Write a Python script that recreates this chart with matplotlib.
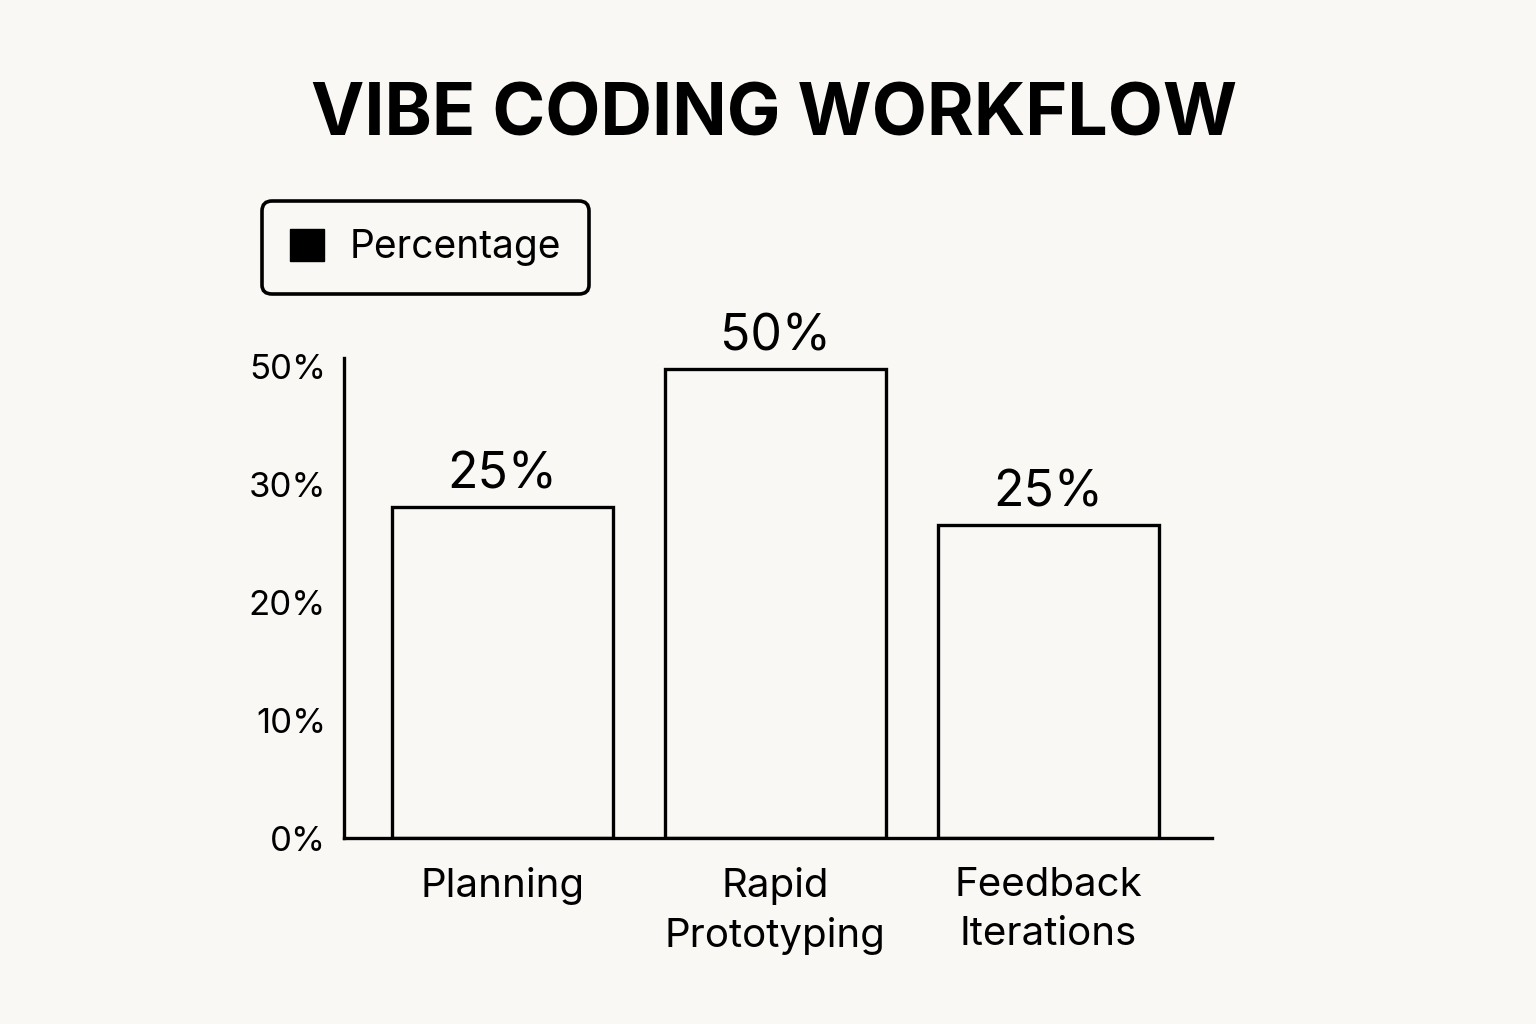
import matplotlib.pyplot as plt
from matplotlib.patches import Patch

# data
categories = ['Planning', 'Rapid\nPrototyping', 'Feedback\nIterations']
bar_heights = [28.1, 39.8, 26.6]          # drawn heights on the axis scale
bar_labels = ['25%', '50%', '25%']        # printed labels above bars
ytick_values = [0, 10, 20, 30, 40]
ytick_labels = ['0%', '10%', '20%', '30%', '50%']

bg = '#faf8f5'
plt.rcParams['font.family'] = ['Inter', 'DejaVu Sans']

fig = plt.figure(figsize=(15.36, 10.24), dpi=100, facecolor=bg)
ax = fig.add_axes([0.224, 0.1816, 0.565, 0.4684])
ax.set_facecolor(bg)

x = range(len(categories))
bars = ax.bar(x, bar_heights, width=0.81, color=bg, edgecolor='black', linewidth=2.4)

for rect, lab in zip(bars, bar_labels):
    ax.annotate(lab, (rect.get_x() + rect.get_width() / 2, rect.get_height()),
                xytext=(0, 6), textcoords='offset points',
                ha='center', va='bottom', fontsize=36)

ax.set_xlim(-0.58, 2.60)
ax.set_ylim(0, 40.7)
ax.set_yticks(ytick_values)
ax.set_yticklabels(ytick_labels, fontsize=25)
ax.set_xticks(list(x))
ax.set_xticklabels(categories, fontsize=29, linespacing=1.4)
ax.tick_params(axis='both', length=0)
ax.tick_params(axis='y', pad=13)
ax.tick_params(axis='x', pad=21)

for side in ['top', 'right']:
    ax.spines[side].set_visible(False)
for side in ['left', 'bottom']:
    ax.spines[side].set_linewidth(2.4)
    ax.spines[side].set_color('black')

leg = ax.legend(handles=[Patch(facecolor='black', edgecolor='black')], labels=['Percentage'],
                loc='center', bbox_to_anchor=(0.277, 0.758), bbox_transform=fig.transFigure,
                fontsize=28, handlelength=0.88, handleheight=0.88, handletextpad=0.65,
                borderpad=0.72, frameon=True, fancybox=True, framealpha=1)
frame = leg.get_frame()
frame.set_edgecolor('black')
frame.set_linewidth(2.6)
frame.set_facecolor(bg)
frame.set_boxstyle('round,pad=0,rounding_size=0.25')

fig.text(0.504, 0.886, 'VIBE CODING WORKFLOW', ha='center', va='center',
         fontsize=51.5, fontweight='bold')

fig.savefig('out.png', dpi=100, facecolor=bg)
